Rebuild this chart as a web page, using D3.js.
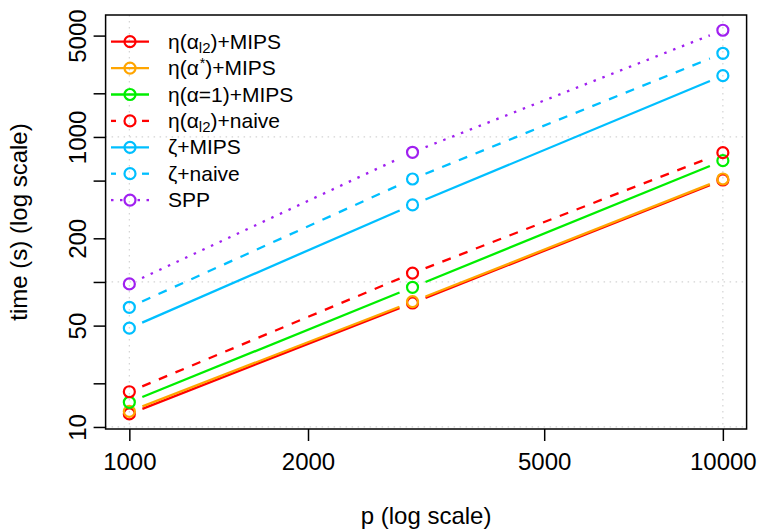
<!DOCTYPE html>
<html>
<head>
<meta charset="utf-8">
<script src="https://cdn.jsdelivr.net/npm/d3@7"></script>
<style>
	body { margin: 0; background: #FFFFFF; }
	svg text { font-family: "Liberation Sans", Arial, sans-serif; fill: #000000; }
</style>
</head>
<body>
<div id="myChart"></div>
<script>
// values (time in seconds)
var pValues = [1000, 3000, 10000];
var etaL2Mips = [12.3, 71.6, 505];
var etaStarMips = [12.8, 73.1, 513];
var etaOneMips = [14.8, 91.9, 686];
var etaL2Naive = [17.5, 115, 779];
var zetaMips = [48.0, 340, 2648];
var zetaNaive = [66.9, 513, 3776];
var spp = [96.9, 784, 5445];

var xTicks = [1000, 2000, 5000, 10000];
var yTicks = [10, 20, 50, 100, 200, 500, 1000, 2000, 5000];
var yLabels = [10, 50, 200, 1000, 5000];
var xGrid = [1000, 10000];
var yGrid = [10, 100, 1000];

var seriesList = [
	{ name: [["η(α", ""], ["l2", "sub"], [")+MIPS", ""]], data: etaL2Mips, color: "#FF0000", dash: null },
	{ name: [["η(α", ""], ["*", "sup"], [")+MIPS", ""]], data: etaStarMips, color: "#FFA500", dash: null },
	{ name: [["η(α=1)+MIPS", ""]], data: etaOneMips, color: "#00EE00", dash: null },
	{ name: [["η(α", ""], ["l2", "sub"], [")+naive", ""]], data: etaL2Naive, color: "#FF0000", dash: "9,9" },
	{ name: [["ζ+MIPS", ""]], data: zetaMips, color: "#00BFFF", dash: null },
	{ name: [["ζ+naive", ""]], data: zetaNaive, color: "#00BFFF", dash: "9,9" },
	{ name: [["SPP", ""]], data: spp, color: "#A020F0", dash: "2.5,7" }
];

function plotChart() {
	var width = 761, height = 529;
	var left = 105.6, right = 746.6, top = 15, bottom = 429;

	var svg = d3.select('#myChart')
		.append('svg')
		.attr('width', width)
		.attr('height', height);

	// R style log axes, extended 4% past the data
	var x = d3.scaleLog()
		.domain([Math.pow(10, 2.96), Math.pow(10, 4.04)])
		.range([left, right]);
	var y = d3.scaleLog()
		.domain([Math.pow(10, 0.986), Math.pow(10, 3.841)])
		.range([bottom, top]);

	// grid
	var grid = svg.append('g')
		.attr('stroke', '#D3D3D3')
		.attr('stroke-width', 1.2)
		.attr('stroke-dasharray', '1.5,4.5');
	grid.selectAll('.vgrid')
		.data(xGrid)
		.enter().append('line')
		.attr('class', 'vgrid')
		.attr('x1', function(d) { return x(d); })
		.attr('x2', function(d) { return x(d); })
		.attr('y1', top)
		.attr('y2', bottom);
	grid.selectAll('.hgrid')
		.data(yGrid)
		.enter().append('line')
		.attr('class', 'hgrid')
		.attr('x1', left)
		.attr('x2', right)
		.attr('y1', function(d) { return y(d); })
		.attr('y2', function(d) { return y(d); });

	// x axis
	var xAxis = svg.append('g')
		.attr('transform', 'translate(0,' + bottom + ')')
		.call(d3.axisBottom(x)
			.tickValues(xTicks)
			.tickSize(12)
			.tickPadding(12)
			.tickFormat(d3.format('d')));
	xAxis.select('.domain').remove();
	xAxis.selectAll('line').attr('stroke', '#000000').attr('stroke-width', 1.5);
	xAxis.selectAll('text').attr('font-size', 24).attr('font-family', '"Liberation Sans", Arial, sans-serif');

	// y axis, labels rotated like R
	var yAxis = svg.append('g')
		.attr('transform', 'translate(' + left + ',0)')
		.call(d3.axisLeft(y)
			.tickValues(yTicks)
			.tickSize(12)
			.tickFormat(''));
	yAxis.select('.domain').remove();
	yAxis.selectAll('line').attr('stroke', '#000000').attr('stroke-width', 1.5);
	yAxis.selectAll('.tick')
		.filter(function(d) { return yLabels.indexOf(d) >= 0; })
		.append('text')
		.attr('transform', 'translate(-20,0) rotate(-90)')
		.attr('text-anchor', 'middle')
		.attr('font-size', 24)
		.attr('fill', '#000000')
		.text(function(d) { return d; });

	// box
	svg.append('rect')
		.attr('x', left)
		.attr('y', top)
		.attr('width', right - left)
		.attr('height', bottom - top)
		.attr('fill', 'none')
		.attr('stroke', '#000000')
		.attr('stroke-width', 1.5);

	// titles
	svg.append('text')
		.attr('x', (left + right) / 2)
		.attr('y', 524)
		.attr('text-anchor', 'middle')
		.attr('font-size', 24)
		.text('p (log scale)');
	svg.append('text')
		.attr('transform', 'translate(27,' + (top + bottom) / 2 + ') rotate(-90)')
		.attr('text-anchor', 'middle')
		.attr('font-size', 24)
		.text('time (s) (log scale)');

	// lines with gaps around the points (type = "b")
	var gap = 14;
	seriesList.forEach(function(s) {
		var g = svg.append('g');
		for (var i = 0; i < pValues.length - 1; i++) {
			var x1 = x(pValues[i]), y1 = y(s.data[i]);
			var x2 = x(pValues[i + 1]), y2 = y(s.data[i + 1]);
			var len = Math.hypot(x2 - x1, y2 - y1);
			var ux = (x2 - x1) / len, uy = (y2 - y1) / len;
			g.append('line')
				.attr('x1', x1 + ux * gap)
				.attr('y1', y1 + uy * gap)
				.attr('x2', x2 - ux * gap)
				.attr('y2', y2 - uy * gap)
				.attr('stroke', s.color)
				.attr('stroke-width', 2.3)
				.attr('stroke-dasharray', s.dash);
		}
		g.selectAll('circle')
			.data(s.data)
			.enter().append('circle')
			.attr('cx', function(d, i) { return x(pValues[i]); })
			.attr('cy', function(d) { return y(d); })
			.attr('r', 5.5)
			.attr('fill', 'none')
			.attr('stroke', s.color)
			.attr('stroke-width', 2.2);
	});

	// legend
	var legend = svg.append('g');
	seriesList.forEach(function(s, i) {
		var ly = 41.7 + 26.4 * i;
		var row = legend.append('g');
		if (s.dash == null) {
			row.append('line')
				.attr('x1', 111).attr('x2', 149)
				.attr('y1', ly).attr('y2', ly)
				.attr('stroke', s.color)
				.attr('stroke-width', 2.3);
		} else {
			// short pieces either side of the marker
			var pieces = s.dash == '2.5,7' ? [[111, 113.5], [120, 122.5], [137.5, 140], [146.5, 149]] : [[111, 116], [142, 149]];
			pieces.forEach(function(p) {
				row.append('line')
					.attr('x1', p[0]).attr('x2', p[1])
					.attr('y1', ly).attr('y2', ly)
					.attr('stroke', s.color)
					.attr('stroke-width', 2.3);
			});
		}
		row.append('circle')
			.attr('cx', 130)
			.attr('cy', ly)
			.attr('r', 5.5)
			.attr('fill', 'none')
			.attr('stroke', s.color)
			.attr('stroke-width', 2.2);
		var t = row.append('text')
			.attr('x', 168)
			.attr('y', ly + 7)
			.attr('font-size', 21);
		s.name.forEach(function(part) {
			var ts = t.append('tspan').text(part[0]);
			if (part[1] == 'sub') {
				ts.attr('font-size', 15).attr('baseline-shift', '-4');
			} else if (part[1] == 'sup') {
				ts.attr('font-size', 14).attr('dx', 1).attr('baseline-shift', '7');
			}
		});
	});
}

document.addEventListener('DOMContentLoaded', plotChart, false);
</script>
</body>
</html>
